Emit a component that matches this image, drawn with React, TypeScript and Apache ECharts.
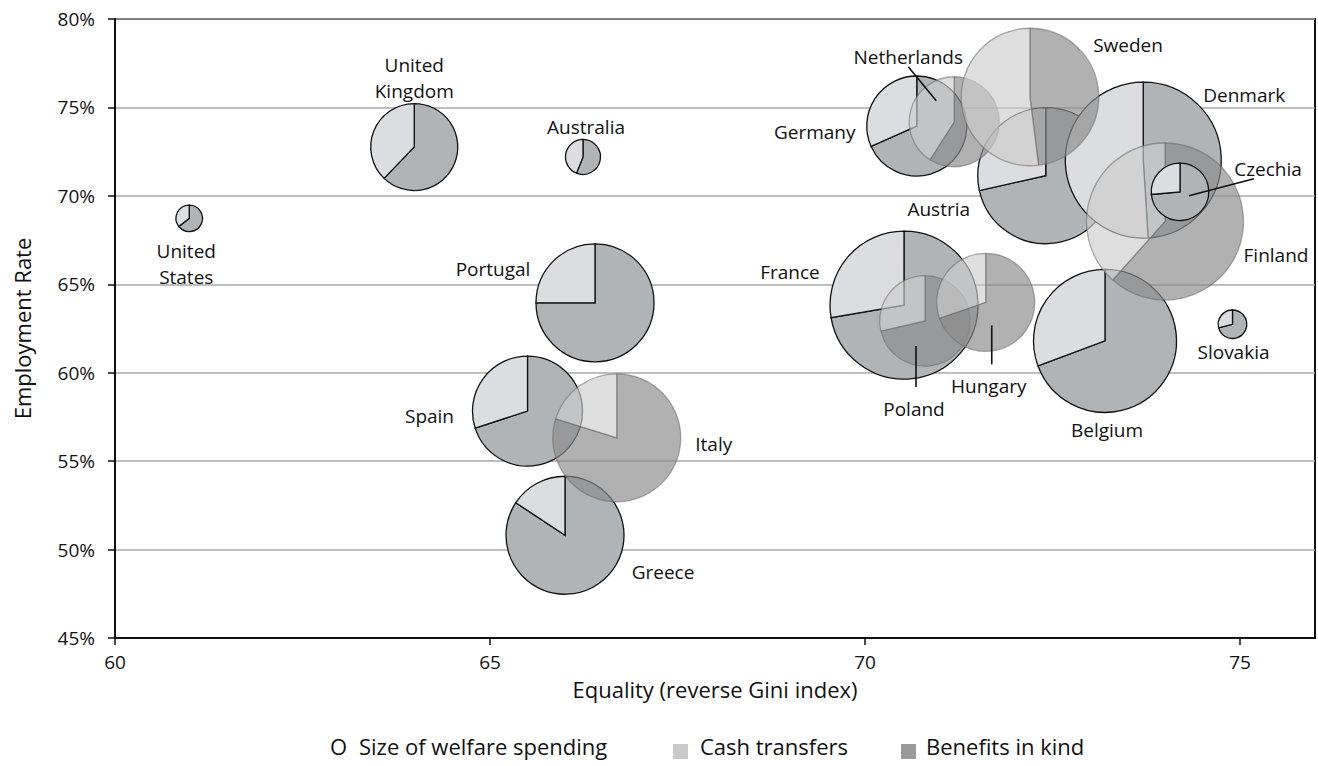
import React, { useEffect, useRef } from "react";
import * as echarts from "echarts";

// ---------------- data ----------------
const countries = [
  "United States", "United Kingdom", "Australia", "Portugal", "Spain", "Greece",
  "France", "Germany", "Austria", "Denmark", "Belgium", "Slovakia",
  "Italy", "Poland", "Hungary", "Netherlands", "Sweden", "Finland", "Czechia",
];
// Equality (reverse Gini index)
const equality = [
  60.99, 63.99, 66.24, 66.4, 65.5, 66.0,
  70.52, 70.69, 72.41, 73.71, 73.2, 74.9,
  66.69, 70.8, 71.61, 71.19, 72.2, 74.0, 74.2,
];
// Employment rate (%)
const employmentRate = [
  68.73, 72.76, 72.2, 63.95, 57.83, 50.81,
  63.82, 73.95, 71.14, 72.02, 61.8, 62.74,
  56.32, 62.93, 63.98, 74.19, 75.59, 68.55, 70.23,
];
// Size of welfare spending (relative index)
const welfareSpending = [
  5.3, 17.4, 7.0, 23.6, 22.0, 23.6,
  29.6, 20.0, 27.2, 31.2, 28.6, 5.7,
  25.6, 18.1, 19.6, 18.0, 27.5, 31.4, 11.5,
];
// Share of spending that is cash transfers (rest = benefits in kind)
const cashTransferShare = [
  0.356, 0.378, 0.44, 0.25, 0.3, 0.157,
  0.277, 0.317, 0.285, 0.51, 0.307, 0.29,
  0.202, 0.286, 0.303, 0.41, 0.52, 0.384, 0.265,
];
const xTicks = [60, 65, 70, 75];
const yTicks = [45, 50, 55, 60, 65, 70, 75, 80];

// ---------------- styling / layout ----------------
const FONT = '"Open Sans", "Noto Sans", sans-serif';
const RADIUS_PER_UNIT = 2.5;
const TRANSLUCENT = new Set(["Italy", "Poland", "Hungary", "Netherlands", "Sweden", "Finland"]);
const LABEL_TEXT: Record<string, string> = {
  "United States": "United\nStates",
  "United Kingdom": "United\nKingdom",
};
// pixel offsets of labels from pie centres, optional leader line [x1,y1,x2,y2]
const LABEL_LAYOUT: Record<string, { dx: number; dy: number; leader?: number[] }> = {
  "United States": { dx: -3, dy: 46 },
  "United Kingdom": { dx: 0, dy: -69 },
  Australia: { dx: 3, dy: -30 },
  Portugal: { dx: -102, dy: -34 },
  Spain: { dx: -98, dy: 5 },
  Italy: { dx: 97, dy: 6 },
  Greece: { dx: 98, dy: 37 },
  France: { dx: -114, dy: -33 },
  Poland: { dx: -11, dy: 88, leader: [-9, 25, -9, 66] },
  Hungary: { dx: 3, dy: 84, leader: [6, 23, 6, 62] },
  Germany: { dx: -102, dy: 6 },
  Netherlands: { dx: -46, dy: -65, leader: [-46, -55, -18, -21] },
  Austria: { dx: -107, dy: 33 },
  Sweden: { dx: 98, dy: -52 },
  Denmark: { dx: 101, dy: -65 },
  Finland: { dx: 111, dy: 33 },
  Czechia: { dx: 88, dy: -23, leader: [74, -13, 9, 4] },
  Belgium: { dx: 2, dy: 89 },
  Slovakia: { dx: 1, dy: 28 },
};

const seriesData = countries.map((_, i) => [
  equality[i],
  employmentRate[i],
  welfareSpending[i],
  cashTransferShare[i],
]);

export default function App() {
  const ref = useRef<HTMLDivElement>(null);
  useEffect(() => {
    if (!ref.current) return;
    const chart = echarts.init(ref.current, undefined, { renderer: "svg" });

    const renderPie = (params: any, api: any) => {
      const name = countries[params.dataIndex];
      const [cx, cy] = api.coord([api.value(0), api.value(1)]);
      const r = api.value(2) * RADIUS_PER_UNIT;
      const cash = api.value(3);
      const tr = TRANSLUCENT.has(name);
      const start = -Math.PI / 2;
      const split = start + 2 * Math.PI * (1 - cash);
      const end = start + 2 * Math.PI;
      const stroke = tr ? "rgba(105,105,105,0.55)" : "#111";
      return {
        type: "group",
        children: [
          {
            type: "sector",
            shape: { cx, cy, r0: 0, r, startAngle: start, endAngle: split, clockwise: true },
            style: { fill: tr ? "rgba(140,140,140,0.68)" : "#b1b4b7", stroke, lineWidth: 1.3 },
          },
          {
            type: "sector",
            shape: { cx, cy, r0: 0, r, startAngle: split, endAngle: end, clockwise: true },
            style: { fill: tr ? "rgba(205,205,205,0.65)" : "#dcdde0", stroke, lineWidth: 1.3 },
          },
        ],
      };
    };

    const renderLabel = (params: any, api: any) => {
      const name = countries[params.dataIndex];
      const [cx, cy] = api.coord([api.value(0), api.value(1)]);
      const lay = LABEL_LAYOUT[name] || { dx: 0, dy: 0 };
      const children: any[] = [
        {
          type: "text",
          x: cx + lay.dx,
          y: cy + lay.dy,
          style: {
            text: LABEL_TEXT[name] || name,
            align: "center",
            verticalAlign: "middle",
            font: `19px ${FONT}`,
            lineHeight: 26,
            fill: "#111",
          },
        },
      ];
      if (lay.leader) {
        const [x1, y1, x2, y2] = lay.leader;
        children.push({
          type: "line",
          shape: { x1: cx + x1, y1: cy + y1, x2: cx + x2, y2: cy + y2 },
          style: { stroke: "#111", lineWidth: 1.6 },
        });
      }
      return { type: "group", children };
    };

    const legendY = 750;
    chart.setOption({
      animation: false,
      textStyle: { fontFamily: FONT },
      grid: {
        left: 115,
        right: 3,
        top: 19,
        bottom: 128,
        show: true,
        borderColor: "#111",
        borderWidth: 2,
        containLabel: false,
      },
      xAxis: {
        type: "value",
        min: 60,
        max: 76,
        interval: 5,
        name: "Equality (reverse Gini index)",
        nameLocation: "middle",
        nameGap: 40,
        nameTextStyle: { fontSize: 22, color: "#111", fontFamily: FONT },
        axisLine: { show: true, onZero: false, lineStyle: { color: "#111", width: 2 } },
        axisTick: { show: true, length: 7, lineStyle: { color: "#111", width: 1.5 }, customValues: xTicks },
        axisLabel: { fontSize: 19, color: "#111", margin: 14, customValues: xTicks, fontFamily: FONT },
        splitLine: { show: false },
      },
      yAxis: {
        type: "value",
        min: 45,
        max: 80,
        interval: 5,
        name: "Employment Rate",
        nameLocation: "middle",
        nameGap: 82,
        nameTextStyle: { fontSize: 22, color: "#111", fontFamily: FONT },
        axisLine: { show: true, onZero: false, lineStyle: { color: "#111", width: 2 } },
        axisTick: { show: true, length: 7, lineStyle: { color: "#111", width: 1.5 }, customValues: yTicks },
        axisLabel: {
          fontSize: 19,
          color: "#111",
          margin: 20,
          formatter: (v: number) => `${v}%`,
          customValues: yTicks,
          fontFamily: FONT,
        },
        splitLine: { show: true, lineStyle: { color: "#a8a8a8", width: 1.5 } },
      },
      series: [
        {
          type: "custom",
          name: "pies",
          renderItem: renderPie,
          data: seriesData,
          encode: { x: 0, y: 1 },
          clip: false,
          z: 2,
        },
        {
          type: "custom",
          name: "labels",
          renderItem: renderLabel,
          data: seriesData,
          encode: { x: 0, y: 1 },
          clip: false,
          z: 3,
        },
      ],
      graphic: [
        { type: "text", left: 330, top: legendY - 15, style: { text: "O", font: `22px ${FONT}`, fill: "#111" } },
        {
          type: "text",
          left: 359,
          top: legendY - 15,
          style: { text: "Size of welfare spending", font: `22px ${FONT}`, fill: "#111" },
        },
        { type: "rect", left: 673, top: legendY - 6, shape: { width: 15, height: 15 }, style: { fill: "#c9c9c9" } },
        {
          type: "text",
          left: 700,
          top: legendY - 15,
          style: { text: "Cash transfers", font: `22px ${FONT}`, fill: "#111" },
        },
        { type: "rect", left: 901, top: legendY - 6, shape: { width: 15, height: 15 }, style: { fill: "#9b9b9b" } },
        {
          type: "text",
          left: 926,
          top: legendY - 15,
          style: { text: "Benefits in kind", font: `22px ${FONT}`, fill: "#111" },
        },
      ],
    });
    return () => chart.dispose();
  }, []);
  return (
    <div
      ref={ref}
      style={{ position: "fixed", left: 0, top: 0, width: 1318, height: 766, background: "#fff" }}
    />
  );
}
